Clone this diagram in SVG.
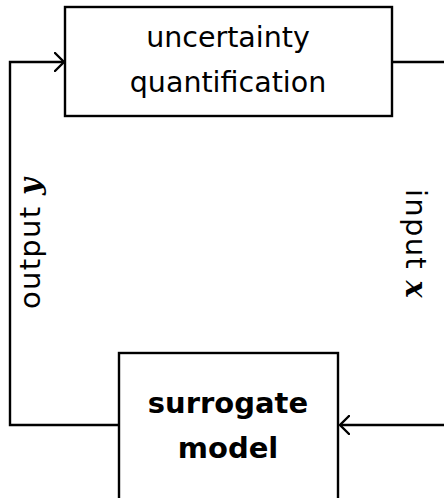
<svg xmlns="http://www.w3.org/2000/svg" width="444" height="498" viewBox="0 0 444 498">
  <style>
    .box { fill: #fff; stroke: #000; stroke-width: 2.4; }
    .wire { fill: none; stroke: #000; stroke-width: 2.4; }
    .lbl { font-family: "DejaVu Sans", sans-serif; font-size: 28.5px; fill: #000; text-anchor: middle; }
    .side { font-size: 29px; letter-spacing: 1.3px; }
    .bold { font-weight: bold; font-size: 29px; }
    .vec { font-family: "DejaVu Serif", serif; font-weight: bold; font-style: italic; }
  </style>
  <defs>
    <marker id="tip" viewBox="-10 -10 12 20" markerWidth="12" markerHeight="20" refX="0" refY="0" markerUnits="userSpaceOnUse" orient="auto">
      <path d="M -9 -9 Q -2 -2 0 0 Q -2 2 -9 9" fill="none" stroke="#000" stroke-width="2.4" stroke-linecap="round"/>
    </marker>
  </defs>

  <!-- feedback loop wiring -->
  <g id="connectors">
    <path class="wire" d="M 338 425 L 10 425 L 10 62 L 64 62" marker-end="url(#tip)"/>
    <path class="wire" d="M 392 62 L 444 62"/>
    <path class="wire" d="M 444 425 L 340 425" marker-end="url(#tip)"/>
    <text class="lbl side" transform="translate(40 243) rotate(-90)">output <tspan class="vec">y</tspan></text>
    <text class="lbl side" transform="translate(406 244) rotate(90)">input <tspan class="vec">x</tspan></text>
  </g>

  <g id="uq">
    <rect class="box" x="65" y="7" width="327" height="109"/>
    <text class="lbl" x="228" y="47">uncertainty</text>
    <text class="lbl" x="228" y="92">quantification</text>
  </g>

  <g id="surrogate">
    <rect class="box" x="119" y="353" width="219" height="150"/>
    <text class="lbl bold" x="228" y="413">surrogate</text>
    <text class="lbl bold" x="228" y="458">model</text>
  </g>
</svg>
